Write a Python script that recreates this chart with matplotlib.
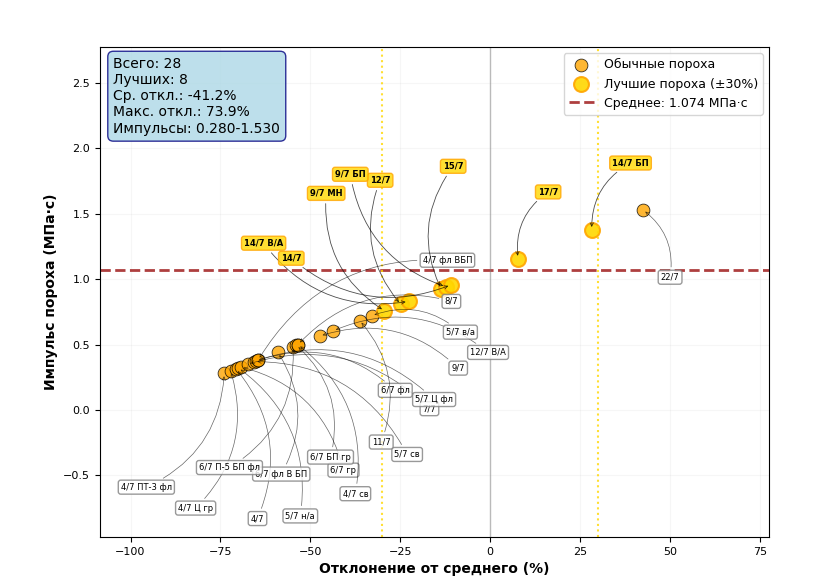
#!/usr/bin/env python3
"""Scatter of propellant impulse vs. deviation from the reference mean."""

import numpy as np
import matplotlib

matplotlib.use("Agg")
import matplotlib.pyplot as plt

MEAN_IMPULSE = 1.074  # MPa*s, reference mean

names = [
    "4/7 ПТ-3 фл", "4/7 Ц гр", "4/7", "5/7 н/а", "6/7 гр", "7/7", "5/7 св",
    "6/7 фл", "5/7 Ц фл", "4/7 фл ВБП", "6/7 фл В БП", "6/7 П-5 БП фл",
    "6/7 БП гр", "4/7 св", "8/7", "9/7", "12/7 В/А", "11/7", "5/7 в/а", "22/7",
    "9/7 МН", "12/7", "14/7 В/А", "15/7", "9/7 БП", "14/7", "17/7", "14/7 БП",
]
impulses = [
    0.280, 0.299, 0.315, 0.322, 0.329, 0.350, 0.370,
    0.375, 0.381, 0.381, 0.440, 0.485,
    0.495, 0.500, 0.500, 0.565, 0.605, 0.684, 0.720, 1.530,
    0.758, 0.807, 0.830, 0.927, 0.942, 0.957, 1.157, 1.377,
]

# where each label sits (deviation %, impulse)
label_pos = {
    "4/7 ПТ-3 фл": (-95.6, -0.59), "4/7 Ц гр": (-81.9, -0.75),
    "4/7": (-64.7, -0.83), "5/7 н/а": (-52.8, -0.81),
    "6/7 гр": (-40.8, -0.46), "7/7": (-16.9, 0.01),
    "5/7 св": (-23.1, -0.34), "6/7 фл": (-26.4, 0.15),
    "5/7 Ц фл": (-15.6, 0.08), "4/7 фл ВБП": (-11.9, 1.145),
    "6/7 фл В БП": (-58.1, -0.49), "6/7 П-5 БП фл": (-72.5, -0.44),
    "6/7 БП гр": (-44.4, -0.36), "4/7 св": (-37.5, -0.64),
    "8/7": (-10.8, 0.83), "9/7": (-8.9, 0.32), "12/7 В/А": (-0.6, 0.44),
    "11/7": (-30.3, -0.245), "5/7 в/а": (-8.3, 0.595), "22/7": (50.0, 1.015),
    "9/7 МН": (-45.6, 1.656), "12/7": (-30.6, 1.756), "14/7 В/А": (-63.0, 1.275),
    "15/7": (-10.3, 1.863), "9/7 БП": (-38.9, 1.802), "14/7": (-55.3, 1.16),
    "17/7": (16.1, 1.667), "14/7 БП": (39.0, 1.888),
}

impulses = np.array(impulses)
deviation = (impulses - MEAN_IMPULSE) / MEAN_IMPULSE * 100
best = np.abs(deviation) <= 30

fig, ax = plt.subplots(figsize=(8.26, 5.84), dpi=100)
fig.subplots_adjust(left=0.121, right=0.931, top=0.9195, bottom=0.0805)

ax.scatter(deviation[~best], impulses[~best], s=85, c="orange", alpha=0.8,
           edgecolors="black", linewidths=0.6, label="Обычные пороха")
ax.scatter(deviation[best], impulses[best], s=115, c="gold", alpha=0.9,
           edgecolors="orange", linewidths=1.5, label="Лучшие пороха (±30%)")
ax.axhline(MEAN_IMPULSE, color="brown", linestyle="--", linewidth=2, alpha=0.9,
           label=f"Среднее: {MEAN_IMPULSE:.3f} МПа·с")
ax.axvline(0, color="gray", linewidth=1, alpha=0.5)
ax.axvline(30, color="gold", linestyle=":", linewidth=1.5, alpha=0.8)
ax.axvline(-30, color="gold", linestyle=":", linewidth=1.5, alpha=0.8)

for name, x, y, is_best in zip(names, deviation, impulses, best):
    tx, ty = label_pos[name]
    if is_best:
        ax.annotate(name, xy=(x, y), xytext=(tx, ty), fontsize=6, fontweight="bold",
                    ha="center", va="center",
                    bbox=dict(boxstyle="round,pad=0.3", facecolor="gold",
                              edgecolor="orange", alpha=0.8),
                    arrowprops=dict(arrowstyle="->", connectionstyle="arc3,rad=0.3",
                                    color="black", lw=0.6, alpha=0.7))
    else:
        ax.annotate(name, xy=(x, y), xytext=(tx, ty), fontsize=6,
                    ha="center", va="center",
                    bbox=dict(boxstyle="round,pad=0.3", facecolor="white",
                              edgecolor="gray", alpha=0.8),
                    arrowprops=dict(arrowstyle="->", connectionstyle="arc3,rad=0.3",
                                    color="black", lw=0.5, alpha=0.6))

stats = (
    f"Всего: {len(impulses)}\n"
    f"Лучших: {best.sum()}\n"
    f"Ср. откл.: {deviation.mean():.1f}%\n"
    f"Макс. откл.: {np.abs(deviation).max():.1f}%\n"
    f"Импульсы: {impulses.min():.3f}-{impulses.max():.3f}"
)
ax.text(0.02, 0.98, stats, transform=ax.transAxes, fontsize=10, va="top",
        bbox=dict(boxstyle="round,pad=0.4", facecolor="lightblue", edgecolor="navy",
                  alpha=0.8))

ax.set_xlim(-108.5, 77.5)
ax.set_ylim(-0.971, 2.775)
ax.set_xlabel("Отклонение от среднего (%)", fontsize=10, fontweight="bold")
ax.set_ylabel("Импульс пороха (МПа·с)", fontsize=10, fontweight="bold")
ax.tick_params(labelsize=8)
ax.grid(True, alpha=0.1)
ax.legend(loc="upper right", fontsize=9)

fig.savefig("out.png", dpi=100)
